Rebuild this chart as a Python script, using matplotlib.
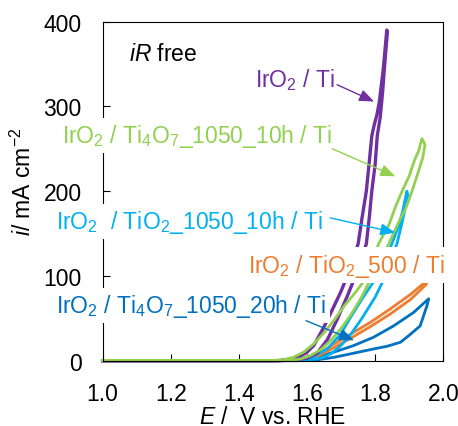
import matplotlib.pyplot as plt

plt.rcParams["font.family"] = ["Liberation Sans", "DejaVu Sans"]
plt.rcParams["mathtext.fontset"] = "custom"
plt.rcParams["mathtext.rm"] = "Liberation Sans"
plt.rcParams["mathtext.it"] = "Liberation Sans:italic"

# CV loops, E in V vs. RHE, i in mA cm-2
# IrO2 / Ti
E_ti_up = [1.00, 1.50, 1.55, 1.60, 1.63, 1.66, 1.69, 1.72, 1.741, 1.76, 1.774, 1.783, 1.79, 1.80, 1.806, 1.815, 1.822, 1.826, 1.831, 1.836]
i_ti_up = [0, 0, 0.5, 3, 9, 25, 50, 78, 99, 120, 138, 170, 200, 232, 265, 288, 318, 340, 365, 388]
E_ti_dn = [1.834, 1.830, 1.824, 1.818, 1.812, 1.805, 1.797, 1.790, 1.782, 1.774, 1.762, 1.750, 1.735, 1.717, 1.700, 1.680, 1.650, 1.620, 1.600, 1.580, 1.550, 1.520, 1.00]
i_ti_dn = [390, 372, 345, 325, 305, 290, 278, 265, 232, 200, 170, 138, 118, 99, 82, 65, 40, 18, 10, 5, 1.5, 0, 0]

# IrO2 / Ti4O7_1050_10h / Ti
E_t10_up = [1.00, 1.50, 1.53, 1.56, 1.59, 1.62, 1.65, 1.68, 1.71, 1.745, 1.776, 1.81, 1.84, 1.86, 1.879, 1.90, 1.915, 1.928, 1.937]
i_t10_up = [0, 0, 1, 4, 10, 20, 33, 48, 65, 82, 99, 138, 160, 182, 200, 218, 236, 248, 262]
E_t10_dn = [1.946, 1.940, 1.926, 1.908, 1.890, 1.865, 1.840, 1.815, 1.790, 1.760, 1.730, 1.700, 1.670, 1.640, 1.610, 1.580, 1.550, 1.00]
i_t10_dn = [255, 240, 222, 200, 180, 160, 138, 118, 99, 75, 55, 38, 24, 13, 6, 2, 0, 0]

# IrO2 / TiO2_1050_10h / Ti
E_o10_up = [1.00, 1.55, 1.58, 1.62, 1.66, 1.70, 1.726, 1.76, 1.805, 1.83, 1.849, 1.865, 1.88, 1.893]
i_o10_up = [0, 0, 1, 5, 14, 32, 50, 72, 99, 120, 138, 155, 175, 200]
E_o10_dn = [1.896, 1.880, 1.864, 1.845, 1.829, 1.800, 1.761, 1.730, 1.700, 1.670, 1.640, 1.600, 1.570]
i_o10_dn = [195, 165, 138, 118, 99, 75, 50, 32, 18, 8, 3, 0.5, 0]

# IrO2 / TiO2_500 / Ti
E_o5_up = [1.00, 1.56, 1.60, 1.63, 1.668, 1.726, 1.785, 1.844, 1.903, 1.952]
i_o5_up = [0, 0, 2, 7, 17, 31, 45, 61, 78, 94.5]
E_o5_dn = [1.950, 1.903, 1.844, 1.785, 1.726, 1.668, 1.630, 1.600, 1.570]
i_o5_dn = [90, 72, 55, 40, 26, 13, 5, 1.5, 0]

# IrO2 / Ti4O7_1050_20h / Ti
E_t20_up = [1.00, 1.57, 1.62, 1.677, 1.736, 1.795, 1.854, 1.913, 1.957]
i_t20_up = [0, 0, 3, 9.9, 17.7, 27.6, 41, 57, 73]
E_t20_dn = [1.952, 1.932, 1.900, 1.874, 1.835, 1.795, 1.726, 1.680, 1.630, 1.590]
i_t20_dn = [65, 41, 30, 21.7, 17, 13.8, 7.9, 4, 1, 0]

fig = plt.figure(figsize=(4.58, 4.27), dpi=100)
ax = fig.add_axes([0.224, 0.153, 0.744, 0.794])

lw = 2.0
ax.plot(E_t20_up + E_t20_dn, i_t20_up + i_t20_dn, color="#0070C0", lw=lw, clip_on=False)
ax.plot(E_o5_up + E_o5_dn, i_o5_up + i_o5_dn, color="#ED7D31", lw=lw, clip_on=False)
ax.plot(E_o10_up + E_o10_dn, i_o10_up + i_o10_dn, color="#00B0F0", lw=lw, clip_on=False)
ax.plot(E_ti_up + E_ti_dn, i_ti_up + i_ti_dn, color="#7030A0", lw=2.4, clip_on=False)
ax.plot(E_t10_up + E_t10_dn, i_t10_up + i_t10_dn, color="#92D050", lw=lw, clip_on=False)

ax.set_xlim(1.0, 2.0)
ax.set_ylim(0, 400)
ax.set_xticks([1.0, 1.2, 1.4, 1.6, 1.8, 2.0])
ax.set_yticks([0, 100, 200, 300, 400])
ax.set_xticklabels(["1.0", "1.2", "1.4", "1.6", "1.8", "2.0"])
ax.tick_params(direction="in", length=5, width=0.8, pad=15, labelsize=16.5)
for s in ax.spines.values():
    s.set_linewidth(0.8)

ax.set_xlabel("$E$ /  V vs. RHE", fontsize=16.5, labelpad=0)
ax.set_ylabel("$i$/ mA cm$^{\\mathregular{-2}}$", fontsize=16.5)
ax.yaxis.set_label_coords(-0.197, 0.53)

ax.text(1.077, 362, "$iR$ free", fontsize=16.5, va="center")

box = dict(facecolor="white", edgecolor="none", pad=3)
fs = 16.5
ax.text(1.447, 324.4, "IrO$_2$ / Ti", color="#7030A0", fontsize=fs, va="baseline", bbox=box, zorder=5)
ax.text(0.880, 257.9, "IrO$_2$ / Ti$_4$O$_7$_1050_10h / Ti", color="#92D050", fontsize=fs, va="baseline", bbox=box, zorder=5, clip_on=False)
ax.text(0.864, 156.4, "IrO$_2$  / TiO$_2$_1050_10h / Ti", color="#00B0F0", fontsize=fs, va="baseline", bbox=box, zorder=5, clip_on=False)
ax.text(1.427, 105.1, "IrO$_2$ / TiO$_2$_500 / Ti", color="#ED7D31", fontsize=fs, va="baseline", bbox=box, zorder=5, clip_on=False)
ax.text(0.864, 57.2, "IrO$_2$ / Ti$_4$O$_7$_1050_20h / Ti", color="#0070C0", fontsize=fs, va="baseline", bbox=box, zorder=5, clip_on=False)

arrows = [
    ((1.688, 325.6), (1.797, 305.7), "#7030A0"),
    ((1.674, 250.0), (1.859, 217.5), "#92D050"),
    ((1.668, 168.5), (1.859, 151.0), "#00B0F0"),
    ((1.597, 47.2), (1.738, 24.0), "#0070C0"),
]
for start, tip, c in arrows:
    ax.annotate("", xy=tip, xytext=start,
                arrowprops=dict(arrowstyle="-|>,head_length=0.75,head_width=0.3",
                                color=c, lw=1.0, mutation_scale=12, shrinkA=0, shrinkB=0),
                zorder=6)

fig.savefig("out.png", dpi=100)
